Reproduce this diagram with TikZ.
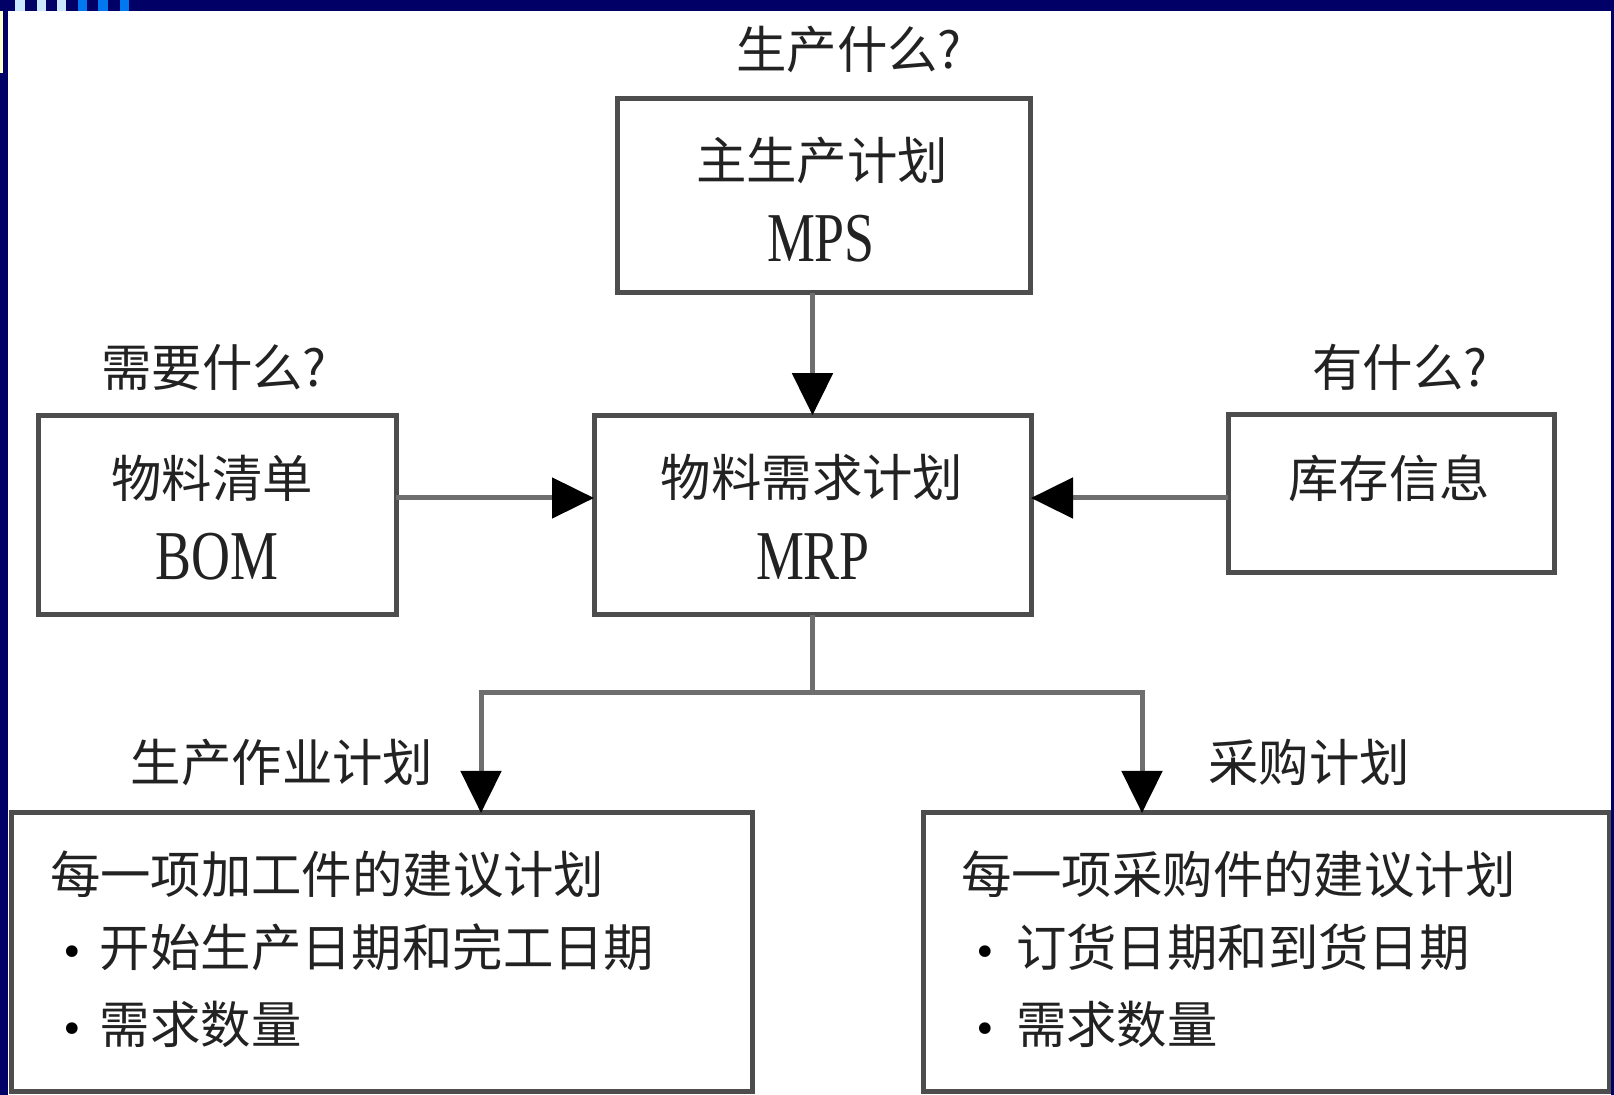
\documentclass[tikz,border=0pt]{standalone}
\usepackage{fontspec}
\setmainfont{Noto Sans CJK SC}
\newfontfamily\latn[FakeStretch=0.77]{Liberation Serif}
\newfontfamily\dejavu{DejaVu Sans}
\usetikzlibrary{arrows.meta}
\definecolor{navy}{HTML}{000066}
\definecolor{paleblue}{HTML}{CCE8FF}
\definecolor{brightblue}{HTML}{0078F0}
\definecolor{paleyellow}{HTML}{FFFFCC}
\definecolor{boxline}{HTML}{4D4D4D}
\definecolor{linkline}{HTML}{6E6E6E}
\definecolor{ink}{HTML}{222222}
\newcommand{\blt}[1]{\makebox[#1][c]{\dejavu\fontsize{20}{24}\selectfont\color{black}•}}
\begin{document}
\begin{tikzpicture}[x=0.5pt,y=-0.5pt,
  box/.style={draw=boxline,line width=2.5pt,rectangle,inner sep=0pt,outer sep=0pt,fill=white},
  txt/.style={inner sep=0pt,outer sep=0pt,text=ink,font=\fontsize{25.2}{30}\selectfont},
  lat/.style={inner sep=0pt,outer sep=0pt,text=ink,font=\latn\fontsize{35}{40}\selectfont},
  link/.style={draw=linkline,line width=2.5pt},
  arr/.style={link,-{Triangle[length=21pt,width=20pt,color=black]}}]
\useasboundingbox (0,0) rectangle (1614,1095);
\fill[white] (0,0) rectangle (1614,1095);
\begin{scope}
\clip (0,0) rectangle (1614,1095);
% boxes
\node[box,minimum width=206.2pt,minimum height=97pt] (mps) at (824,196) {};
\node[box,minimum width=218.5pt,minimum height=99.75pt] (mrp) at (812.5,515) {};
\node[box,minimum width=179pt,minimum height=99.75pt] (bom) at (217,515) {};
\node[box,minimum width=163pt,minimum height=79pt] (stock) at (1391,494) {};
\node[box,minimum width=370.5pt,minimum height=139.5pt] (plan) at (381.5,952.5) {};
\node[box,minimum width=343pt,minimum height=139.5pt] (buy) at (1266,952.5) {};
% connectors
\coordinate (jl) at (481,693);
\coordinate (jr) at (1142,693);
\draw[arr] (mps.south -| mrp.north) -- (mrp.north);
\draw[arr] ([yshift=8.5pt]bom.east) -- ([yshift=8.5pt]bom.east -| mrp.west);
\draw[arr] ([yshift=-2pt]stock.west) -- ([yshift=-2pt]stock.west -| mrp.east);
\draw[arr] (mrp.south) |- (jl) -- (jl |- plan.north);
\draw[arr] (mrp.south |- jr) -- (jr) -- (jr |- buy.north);
% texts
\node[txt,anchor=base] (q1) at (849,69) {生产什么?};
\node[txt,anchor=base] (mpst) at (822,180) {主生产计划};
\node[lat,anchor=base] (mpsl) at (821,262) {MPS};
\node[txt,anchor=base] (q2) at (214,387) {需要什么?};
\node[txt,anchor=base] (bomt) at (212,498) {物料清单};
\node[lat,anchor=base] (boml) at (217,580) {BOM};
\node[txt,anchor=base] (mrpt) at (812,497) {物料需求计划};
\node[lat,anchor=base] (mrpl) at (813,580) {MRP};
\node[txt,anchor=base] (q3) at (1400,387) {有什么?};
\node[txt,anchor=base] (stockt) at (1389,498) {库存信息};
\node[txt,anchor=base] (plant) at (282,782) {生产作业计划};
\node[txt,anchor=base] (buyt) at (1309,782) {采购计划};
\node[txt,anchor=base west] (p1) at (50,894) {每一项加工件的建议计划};
\node[txt,anchor=base west] (p2) at (44,967) {\blt{28pt}开始生产日期和完工日期};
\node[txt,anchor=base west] (p3) at (44,1044) {\blt{28pt}需求数量};
\node[txt,anchor=base west] (b1) at (961,894) {每一项采购件的建议计划};
\node[txt,anchor=base west] (b2) at (954,967) {\blt{31pt}订货日期和到货日期};
\node[txt,anchor=base west] (b3) at (954,1044) {\blt{31pt}需求数量};
\end{scope}
% frame
\fill[navy] (0,0) rectangle (1614,11);
\fill[navy] (0,0) rectangle (8,1095);
\fill[navy] (1611,0) rectangle (1614,1095);
\fill[paleyellow] (0,11) rectangle (3,73);
\foreach \a/\b in {15/25,37/46,57/66} \fill[paleblue] (\a,0) rectangle (\b,11);
\foreach \a/\b in {78/87,98/108,120/129} \fill[brightblue] (\a,0) rectangle (\b,11);
\end{tikzpicture}
\end{document}
